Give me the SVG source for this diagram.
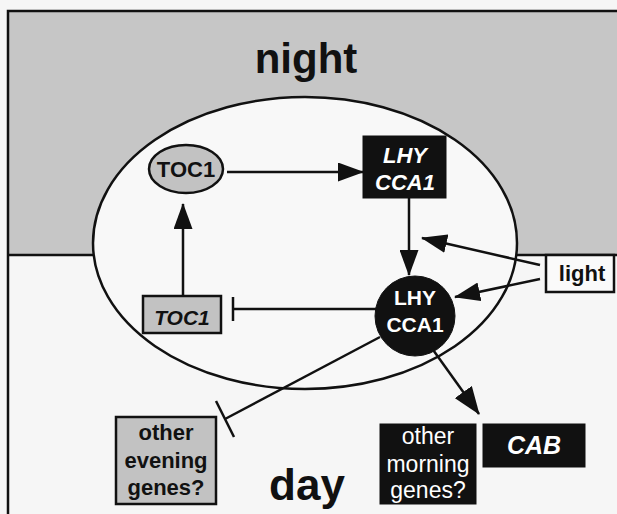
<svg xmlns="http://www.w3.org/2000/svg" width="617" height="514" viewBox="0 0 617 514">
<style>
text{font-family:"Liberation Sans",Arial,sans-serif;text-anchor:middle}
.b{font-weight:bold}
.i{font-style:italic}
.w{fill:#fff}
.k{fill:#111}
.ln{stroke:#111;stroke-width:2.5;fill:none}
.gray{fill:#c2c2c2;stroke:#111;stroke-width:2.5}
.blk{fill:#111;stroke:#111;stroke-width:1}
</style>
<defs>
<marker id="ah" viewBox="0 0 26 19" refX="25" refY="9.5" markerWidth="26" markerHeight="19" markerUnits="userSpaceOnUse" orient="auto">
<path d="M0,0 L26,9.5 L0,19 z" fill="#111"/>
</marker>
<marker id="ahL" viewBox="0 0 28 21" refX="27" refY="10.5" markerWidth="28" markerHeight="21" markerUnits="userSpaceOnUse" orient="auto">
<path d="M0,0 L28,10.5 L0,21 z" fill="#111"/>
</marker>
</defs>
<rect x="0" y="0" width="617" height="514" fill="#f6f6f6"/>
<g id="background">
<rect x="8" y="11" width="612" height="244" fill="#c6c6c6"/>
<path d="M8,514 L8,11 L620,11" class="ln" stroke-width="3"/>
<line x1="8" y1="255" x2="617" y2="255" class="ln"/>
<text x="306" y="73" class="b k" font-size="42">night</text>
<text x="307" y="500" class="b k" font-size="44">day</text>
</g>
<g id="cell">
<ellipse cx="305" cy="243" rx="212" ry="146" fill="#f8f8f8" stroke="#111" stroke-width="2.5"/>
</g>
<g id="connectors">
<line x1="227" y1="172" x2="363" y2="172" class="ln" marker-end="url(#ah)"/>
<line x1="409" y1="198" x2="409" y2="275" class="ln" marker-end="url(#ah)"/>
<line x1="540" y1="265" x2="422" y2="238" class="ln" marker-end="url(#ah)"/>
<line x1="540" y1="279" x2="455" y2="297" class="ln" marker-end="url(#ah)"/>
<line x1="183" y1="296" x2="183" y2="204" class="ln" marker-end="url(#ah)"/>
<line x1="376" y1="309" x2="233" y2="309" class="ln"/>
<line x1="233" y1="297" x2="233" y2="321" class="ln"/>
<line x1="380" y1="337" x2="225" y2="419" class="ln"/>
<line x1="216" y1="401" x2="234" y2="437" class="ln"/>
<line x1="431" y1="347" x2="479" y2="414" class="ln" marker-end="url(#ahL)"/>
</g>
<g id="toc1-protein">
<ellipse cx="186" cy="169" rx="37" ry="24" class="gray"/>
<text x="186" y="177" class="b k" font-size="22">TOC1</text>
</g>
<g id="lhy-cca1-gene">
<rect x="363" y="136" width="83" height="62" class="blk"/>
<text x="405" y="163" class="b i w" font-size="22">LHY</text>
<text x="405" y="190" class="b i w" font-size="22">CCA1</text>
</g>
<g id="lhy-cca1-protein">
<circle cx="415" cy="316" r="40" class="blk"/>
<text x="415" y="305" class="b w" font-size="21">LHY</text>
<text x="415" y="332" class="b w" font-size="21">CCA1</text>
</g>
<g id="light">
<rect x="546" y="255" width="68" height="37" fill="#fafafa" stroke="#111" stroke-width="2.5"/>
<text x="582" y="281" class="b k" font-size="22">light</text>
</g>
<g id="toc1-gene">
<rect x="143" y="296" width="78" height="37" class="gray"/>
<text x="182" y="325" class="b i k" font-size="21">TOC1</text>
</g>
<g id="evening-genes">
<rect x="116" y="417" width="100" height="87" class="gray"/>
<text x="166" y="440" class="b k" font-size="22">other</text>
<text x="166" y="468" class="b k" font-size="22">evening</text>
<text x="166" y="495" class="b k" font-size="22">genes?</text>
</g>
<g id="morning-genes">
<rect x="380" y="424" width="96" height="80" class="blk"/>
<text x="428" y="444" class="w" font-size="23">other</text>
<text x="428" y="472" class="w" font-size="23">morning</text>
<text x="428" y="498" class="w" font-size="23">genes?</text>
</g>
<g id="cab">
<rect x="483" y="424" width="102" height="43" class="blk"/>
<text x="534" y="454" class="b i w" font-size="25">CAB</text>
</g>
</svg>
